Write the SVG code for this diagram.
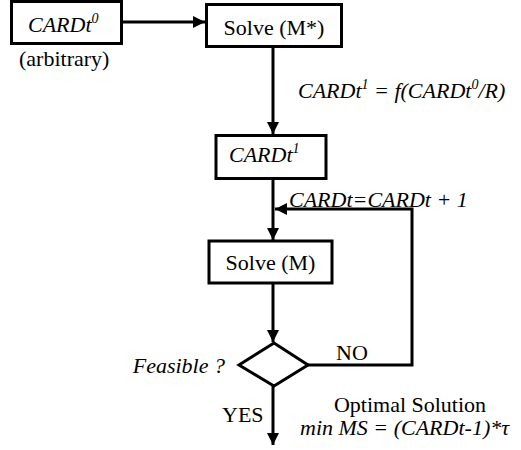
<svg xmlns="http://www.w3.org/2000/svg" width="521" height="450" viewBox="0 0 521 450">
<style>
.box{fill:#fff;stroke:#000;stroke-width:3}
.ln{fill:none;stroke:#000;stroke-width:3}
text{font-family:"Liberation Serif","Times New Roman","DejaVu Serif",serif;font-size:22px;fill:#000}
.it{font-style:italic}
</style>
<defs>
<marker id="ah" markerUnits="userSpaceOnUse" markerWidth="12" markerHeight="12" viewBox="0 0 12 12" refX="12" refY="6" orient="auto">
<path d="M0,0 L12,6 L0,12 Z" fill="#000"/>
</marker>
</defs>
<rect width="521" height="450" fill="#fff"/>
<g id="connectors">
<line class="ln" x1="123" y1="22" x2="205" y2="22" marker-end="url(#ah)"/>
<line class="ln" x1="273" y1="47" x2="273" y2="134" marker-end="url(#ah)"/>
<line class="ln" x1="273" y1="179" x2="273" y2="240" marker-end="url(#ah)"/>
<line class="ln" x1="273" y1="283" x2="273" y2="342" marker-end="url(#ah)"/>
<polyline class="ln" points="308,365 412,365 412,209 275,209" marker-end="url(#ah)"/>
<line class="ln" x1="273" y1="385" x2="273" y2="445" marker-end="url(#ah)"/>
</g>
<g id="card0" font-family="Liberation Serif, serif">
<rect class="box" x="11.5" y="1.5" width="110" height="42"/>
<text class="it" x="28" y="32">CARDt<tspan dy="-9" font-size="14">0</tspan></text>
<text x="19" y="66">(arbitrary)</text>
</g>
<g id="solveMstar" font-family="Liberation Serif, serif">
<rect class="box" x="206.5" y="4.5" width="135" height="42"/>
<text x="274" y="35" text-anchor="middle">Solve (M*)</text>
</g>
<g id="card1" font-family="Liberation Serif, serif">
<rect class="box" x="216" y="135.5" width="110" height="43"/>
<text class="it" x="229" y="162">CARDt<tspan dy="-9" font-size="14">1</tspan></text>
</g>
<g id="solveM" font-family="Liberation Serif, serif">
<rect class="box" x="209" y="241" width="123" height="42"/>
<text x="270.5" y="270" text-anchor="middle">Solve (M)</text>
</g>
<g id="feasible" font-family="Liberation Serif, serif">
<polygon class="box" points="274,343 308,365 274,386 239,365"/>
<text class="it" x="225" y="373" text-anchor="end">Feasible ?</text>
</g>
<g id="labels" font-family="Liberation Serif, serif">
<text class="it" x="298" y="98">CARDt<tspan dy="-9" font-size="14">1</tspan><tspan dy="9"> = f(CARDt</tspan><tspan dy="-9" font-size="14">0</tspan><tspan dy="9">/R)</tspan></text>
<text class="it" x="289" y="207">CARDt=CARDt + 1</text>
<text x="352" y="360" text-anchor="middle">NO</text>
<text x="222" y="422">YES</text>
<text x="410" y="412" text-anchor="middle">Optimal Solution</text>
<text class="it" x="300" y="435" font-size="21">min MS = (CARDt-1)*τ</text>
</g>
</svg>
